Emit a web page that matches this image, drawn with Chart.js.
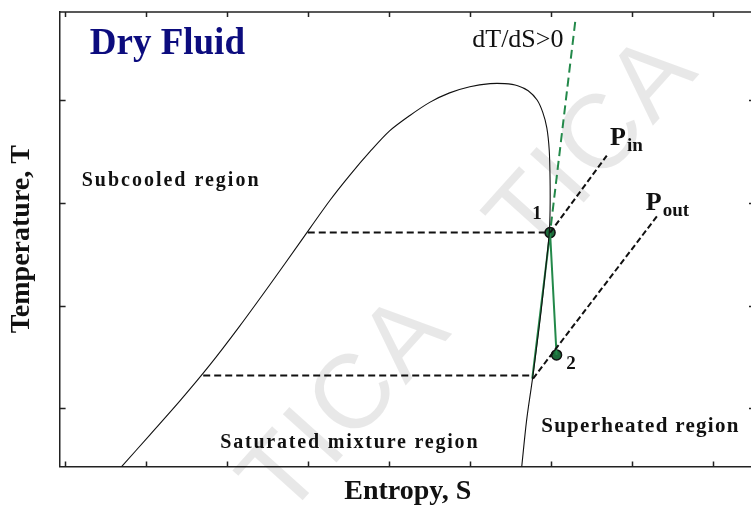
<!DOCTYPE html>
<html>
<head>
<meta charset="utf-8">
<script src="https://cdn.jsdelivr.net/npm/chart.js@4.4.1/dist/chart.umd.min.js"></script>
<style>
  html, body { margin: 0; padding: 0; background: #fff; overflow: hidden; width: 751px; height: 509px; }
  canvas { display: block; }
</style>
</head>
<body>
<canvas id="c" width="764" height="509"></canvas>
<script>
// Saturation dome of a dry working fluid on the T–S plane (arbitrary units)
const domeS = [0.70, 1.05, 1.42, 1.79, 2.16, 2.53, 2.90, 3.27, 3.52, 3.77, 4.01, 4.26, 4.51, 4.75, 5.00, 5.25,
               5.43, 5.59, 5.72, 5.83, 5.90, 5.95, 5.98, 5.99, 5.99, 5.98, 5.94, 5.88, 5.82, 5.77, 5.70, 5.64];
const domeT = [0.43, 0.74, 1.07, 1.42, 1.80, 2.20, 2.61, 3.02, 3.27, 3.50, 3.70, 3.85, 3.98, 4.07, 4.13, 4.16,
               4.16, 4.14, 4.09, 4.00, 3.88, 3.73, 3.51, 3.22, 2.93, 2.71, 2.39, 1.95, 1.57, 1.27, 0.88, 0.43];

// State points: 1 = expander inlet, 2 = expander outlet
const stateNames = ['1', '2'];
const stateS = [5.99, 6.07];
const stateT = [2.71, 1.52];

// Saturated-vapour slope (dT/dS > 0), dashed part above state 1
const slopeS = [6.30, 5.99];
const slopeT = [4.76, 2.71];

// Solid green path: slope continued below state 1, then the expansion 1 -> 2
const expS = [5.77, 5.99, 6.07];
const expT = [1.29, 2.71, 1.52];

// Constant-temperature tie lines at the two pressures
const tieHighS = [3.00, 5.99];
const tieHighT = [2.71, 2.71];
const tieLowS  = [1.71, 5.78];
const tieLowT  = [1.32, 1.32];

// Isobars in the superheated region
const pInS  = [5.99, 6.69];
const pInT  = [2.71, 3.46];
const pOutS = [5.78, 7.31];
const pOutT = [1.29, 2.87];

// Axis tick positions (unlabelled)
const sTicks = [0, 1, 2, 3, 4, 5, 6, 7, 8];
const tTicks = [1, 2, 3, 4];

const pts = (xs, ys) => xs.map((x, i) => ({ x: x, y: ys[i] }));

const SERIF = '"Liberation Serif", "Times New Roman", serif';

// Text annotations anchored in data coordinates
const notes = [
  { text: 'Dry Fluid', s: 0.31, t: 4.45, font: 'bold 37px ' + SERIF, color: '#0c0c7e' },
  { text: 'dT/dS>0', s: 5.03, t: 4.52, font: '26px ' + SERIF, color: '#111' },
  { text: 'Subcooled region', s: 0.21, t: 3.16, font: 'bold 20px ' + SERIF, color: '#111', spacing: 2 },
  { text: 'Saturated mixture region', s: 1.92, t: 0.61, font: 'bold 20px ' + SERIF, color: '#111', spacing: 1.8 },
  { text: 'Superheated region', s: 5.88, t: 0.77, font: 'bold 21px ' + SERIF, color: '#111', spacing: 1.3 },
  { text: '1', s: 5.77, t: 2.84, font: 'bold 19px ' + SERIF, color: '#111' },
  { text: '2', s: 6.19, t: 1.38, font: 'bold 19px ' + SERIF, color: '#111' },
  { text: 'P', s: 6.73, t: 3.56, font: 'bold 26px ' + SERIF, color: '#111' },
  { text: 'in', s: 6.94, t: 3.50, font: 'bold 19px ' + SERIF, color: '#111' },
  { text: 'P', s: 7.17, t: 2.93, font: 'bold 26px ' + SERIF, color: '#111' },
  { text: 'out', s: 7.38, t: 2.87, font: 'bold 19px ' + SERIF, color: '#111' }
];

// Faint diagonal watermark text
const marks = [
  { text: 'TICA', s: 6.55, t: 3.55 },
  { text: 'TICA', s: 3.50, t: 1.02 }
];

const framePlugin = {
  id: 'frameAndTicks',
  beforeDatasetsDraw(chart) {
    const { ctx, scales: { x, y } } = chart;
    ctx.save();
    ctx.font = '105px "Liberation Sans", Arial, sans-serif';
    ctx.fillStyle = 'rgba(0,0,0,0.09)';
    ctx.textAlign = 'center';
    ctx.textBaseline = 'middle';
    marks.forEach(m => {
      ctx.save();
      ctx.translate(x.getPixelForValue(m.s), y.getPixelForValue(m.t));
      ctx.rotate(-48 * Math.PI / 180);
      ctx.letterSpacing = '4px';
      ctx.fillText(m.text, 0, 0);
      ctx.restore();
    });
    ctx.restore();
  },
  afterDraw(chart) {
    const { ctx, chartArea: a, scales: { x, y } } = chart;
    ctx.save();
    ctx.strokeStyle = '#222';
    ctx.lineWidth = 1.5;
    ctx.beginPath();
    ctx.moveTo(a.left, a.top); ctx.lineTo(a.right, a.top);
    ctx.moveTo(a.right, a.top); ctx.lineTo(a.right, a.bottom);
    sTicks.forEach(v => {
      const px = Math.round(x.getPixelForValue(v)) + 0.5;
      ctx.moveTo(px, a.top); ctx.lineTo(px, a.top + 5);
      ctx.moveTo(px, a.bottom); ctx.lineTo(px, a.bottom - 5);
    });
    tTicks.forEach(v => {
      const py = Math.round(y.getPixelForValue(v)) + 0.5;
      ctx.moveTo(a.left, py); ctx.lineTo(a.left + 6, py);
      ctx.moveTo(a.right, py); ctx.lineTo(a.right - 7, py);
    });
    ctx.stroke();

    ctx.textBaseline = 'alphabetic';
    ctx.textAlign = 'left';
    notes.forEach(n => {
      ctx.font = n.font;
      ctx.fillStyle = n.color;
      ctx.letterSpacing = (n.spacing || 0) + 'px';
      ctx.fillText(n.text, x.getPixelForValue(n.s), y.getPixelForValue(n.t));
    });
    ctx.restore();
  }
};

const GREEN = '#23894a';

new Chart(document.getElementById('c'), {
  type: 'scatter',
  data: {
    datasets: [
      { label: 'Saturation dome', data: pts(domeS, domeT), showLine: true, tension: 0.3,
        borderColor: '#111', borderWidth: 1.1, pointRadius: 0 },
      { label: 'Tie line (inlet)', data: pts(tieHighS, tieHighT), showLine: true,
        borderColor: '#111', borderWidth: 2, borderDash: [7, 4], pointRadius: 0 },
      { label: 'Tie line (outlet)', data: pts(tieLowS, tieLowT), showLine: true,
        borderColor: '#111', borderWidth: 2, borderDash: [7, 4], pointRadius: 0 },
      { label: 'P in', data: pts(pInS, pInT), showLine: true,
        borderColor: '#111', borderWidth: 2, borderDash: [6, 3], pointRadius: 0 },
      { label: 'P out', data: pts(pOutS, pOutT), showLine: true,
        borderColor: '#111', borderWidth: 2, borderDash: [6, 3], pointRadius: 0 },
      { label: 'dT/dS>0', data: pts(slopeS, slopeT), showLine: true,
        borderColor: GREEN, borderWidth: 2, borderDash: [9, 5], pointRadius: 0 },
      { label: 'Expansion', data: pts(expS, expT), showLine: true,
        borderColor: GREEN, borderWidth: 2, pointRadius: 0 },
      { label: 'States', data: pts(stateS, stateT), showLine: false,
        pointRadius: 5, pointBackgroundColor: '#1d6b3a', pointBorderColor: '#111', pointBorderWidth: 1.5 }
    ]
  },
  options: {
    responsive: false,
    animation: false,
    events: [],
    // the right-hand frame edge sits just past the visible part of the canvas
    layout: { padding: { top: 12, right: 8, bottom: 0, left: 0 } },
    plugins: { legend: { display: false }, tooltip: { enabled: false } },
    scales: {
      x: {
        type: 'linear', min: -0.062, max: 8.531,
        grid: { display: false, drawTicks: false, tickLength: 0 },
        border: { display: true, color: '#222', width: 1.5 },
        ticks: { display: false },
        title: { display: true, text: 'Entropy, S', color: '#111',
                 font: { family: SERIF, size: 28, weight: 'bold' }, padding: { top: 9, bottom: 0 } }
      },
      y: {
        type: 'linear', min: 0.435, max: 4.857,
        grid: { display: false, drawTicks: false, tickLength: 0 },
        border: { display: true, color: '#222', width: 1.5 },
        ticks: { display: false },
        title: { display: true, text: 'Temperature, T', color: '#111',
                 font: { family: SERIF, size: 28, weight: 'bold' }, padding: { top: 5, bottom: 21 } }
      }
    }
  },
  plugins: [framePlugin]
});
</script>
</body>
</html>
